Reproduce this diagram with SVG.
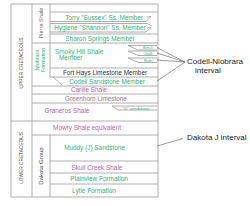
<svg xmlns="http://www.w3.org/2000/svg" width="250" height="206" viewBox="0 0 250 206">
<style>
.ln{stroke:#9a9a9a;stroke-width:0.8;fill:none}
.t{font-family:"Liberation Sans",Arial,sans-serif;font-size:6.4px;text-anchor:middle}
.g{fill:#2fb57a}
.p{fill:#c060a0}
.m{fill:#9a7890}
.k{fill:#333}
.v{font-family:"Liberation Sans",Arial,sans-serif;font-size:4.8px;text-anchor:middle;fill:#444}
.s{font-family:"Liberation Sans",Arial,sans-serif;font-size:3.6px;text-anchor:middle;fill:#2fb57a}
.lab{font-family:"Liberation Sans",Arial,sans-serif;font-size:8px;fill:#222}
</style>
<rect width="250" height="206" fill="#fff"/>
<g id="frame">
<rect class="ln" x="11" y="4" width="147" height="193"/>
<path class="ln" d="M32,4V197 M50,4V77 M50,135V197 M11,121H158 M32,43H158 M32,135H158"/>
</g>
<g id="era-upper"><text class="v" transform="translate(23,63) rotate(-90)">UPPER CRETACEOUS</text></g>
<g id="era-lower"><text class="v" transform="translate(23,158) rotate(-90)">LOWER CRETACEOUS</text></g>
<g id="pierre"><text class="v" transform="translate(43,23) rotate(-90)" style="font-size:5.6px;fill:#666">Pierre Shale</text></g>
<g id="niobrara"><text class="v" transform="translate(39,60) rotate(-90)" style="font-size:5.4px;fill:#2fb57a">Niobrara</text><text class="v" transform="translate(45,60) rotate(-90)" style="font-size:5.4px;fill:#2fb57a">Formation</text></g>
<g id="dakota"><text class="v" transform="translate(43,166) rotate(-90)" style="font-size:6px;fill:#444">Dakota Group</text></g>
<g id="torry"><path class="ln" d="M50,12H158 M50,21.5H146 L151,16.5 L147,17"/><text class="t g" x="104" y="19.5">Torry "Sussex" Ss. Member</text></g>
<g id="hygiene"><path class="ln" d="M50,23.5H147 L152,26 M50,32H146 L151,27.5 L147,28"/><text class="t g" x="100" y="30">Hygiene "Shannon" Ss. Member</text></g>
<g id="sharon"><path class="ln" d="M50,34H158"/><text class="t g" x="100" y="40.5">Sharon Springs Member</text></g>
<g id="smoky"><text class="t g" x="55" y="54" style="text-anchor:start">Smoky Hill Shale</text><text class="t g" x="59" y="60" style="text-anchor:start">Member</text></g>
<g id="bench1"><path class="ln" d="M128,45.5H157 M128,45.5L138,50H157"/><text class="s" x="148" y="49">Bench</text></g>
<g id="bench2"><path class="ln" d="M128,51H157 M128,51L138,55.5H157"/><text class="s" x="148" y="54.5">Chalk</text></g>
<g id="bench3"><path class="ln" d="M128,58H157 M128,58L138,62.5H157"/><text class="s" x="148" y="61.5">Beds</text></g>
<g id="forthays"><path class="ln" d="M50,68H158"/><text class="t k" x="105" y="75">Fort Hays Limestone Member</text></g>
<g id="codell"><path class="ln" d="M50,77H158 M53,77L62,85"/><text class="t g" x="107" y="84">Codell Sandstone Member</text></g>
<g id="carlile"><path class="ln" d="M32,86H158"/><text class="t p" x="89" y="92">Carlile Shale</text></g>
<g id="greenhorn"><path class="ln" d="M32,94H158"/><text class="t m" x="96" y="101">Greenhorn Limestone</text></g>
<g id="graneros"><path class="ln" d="M32,103H158"/><text class="t p" x="67" y="113">Graneros Shale</text></g>
<g id="dsand"><path class="ln" d="M112,106H157 M112,106L118,110H157"/><text class="s" x="136" y="109.5" style="font-size:4.2px">"D" sandstone</text></g>
<g id="mowry"><text class="t p" x="87" y="130">Mowry Shale equivalent</text></g>
<g id="muddy"><path class="ln" d="M50,161H158"/><text class="t g" x="94.5" y="150">Muddy (J) Sandstone</text></g>
<g id="skull"><path class="ln" d="M50,173H158"/><text class="t p" x="97" y="169.5">Skull Creek Shale</text></g>
<g id="plainview"><path class="ln" d="M50,184H158"/><text class="t g" x="99" y="180.5">Plainview Formation</text></g>
<g id="lytle"><text class="t g" x="94" y="193">Lytle Formation</text></g>
<g id="connectors">
<path class="ln" style="stroke:#555;stroke-width:0.6" d="M157,47.5L185,62 M157,53L185,62 M157,60L185,62 M157,81L185,62 M157,146L183,138.5"/>
</g>
<g id="codell-niobrara-interval"><text class="lab" x="187" y="64">Codell-Niobrara</text><text class="lab" x="195" y="73">interval</text></g>
<g id="dakota-j-interval"><text class="lab" x="187" y="140">Dakota J interval</text></g>
</svg>
